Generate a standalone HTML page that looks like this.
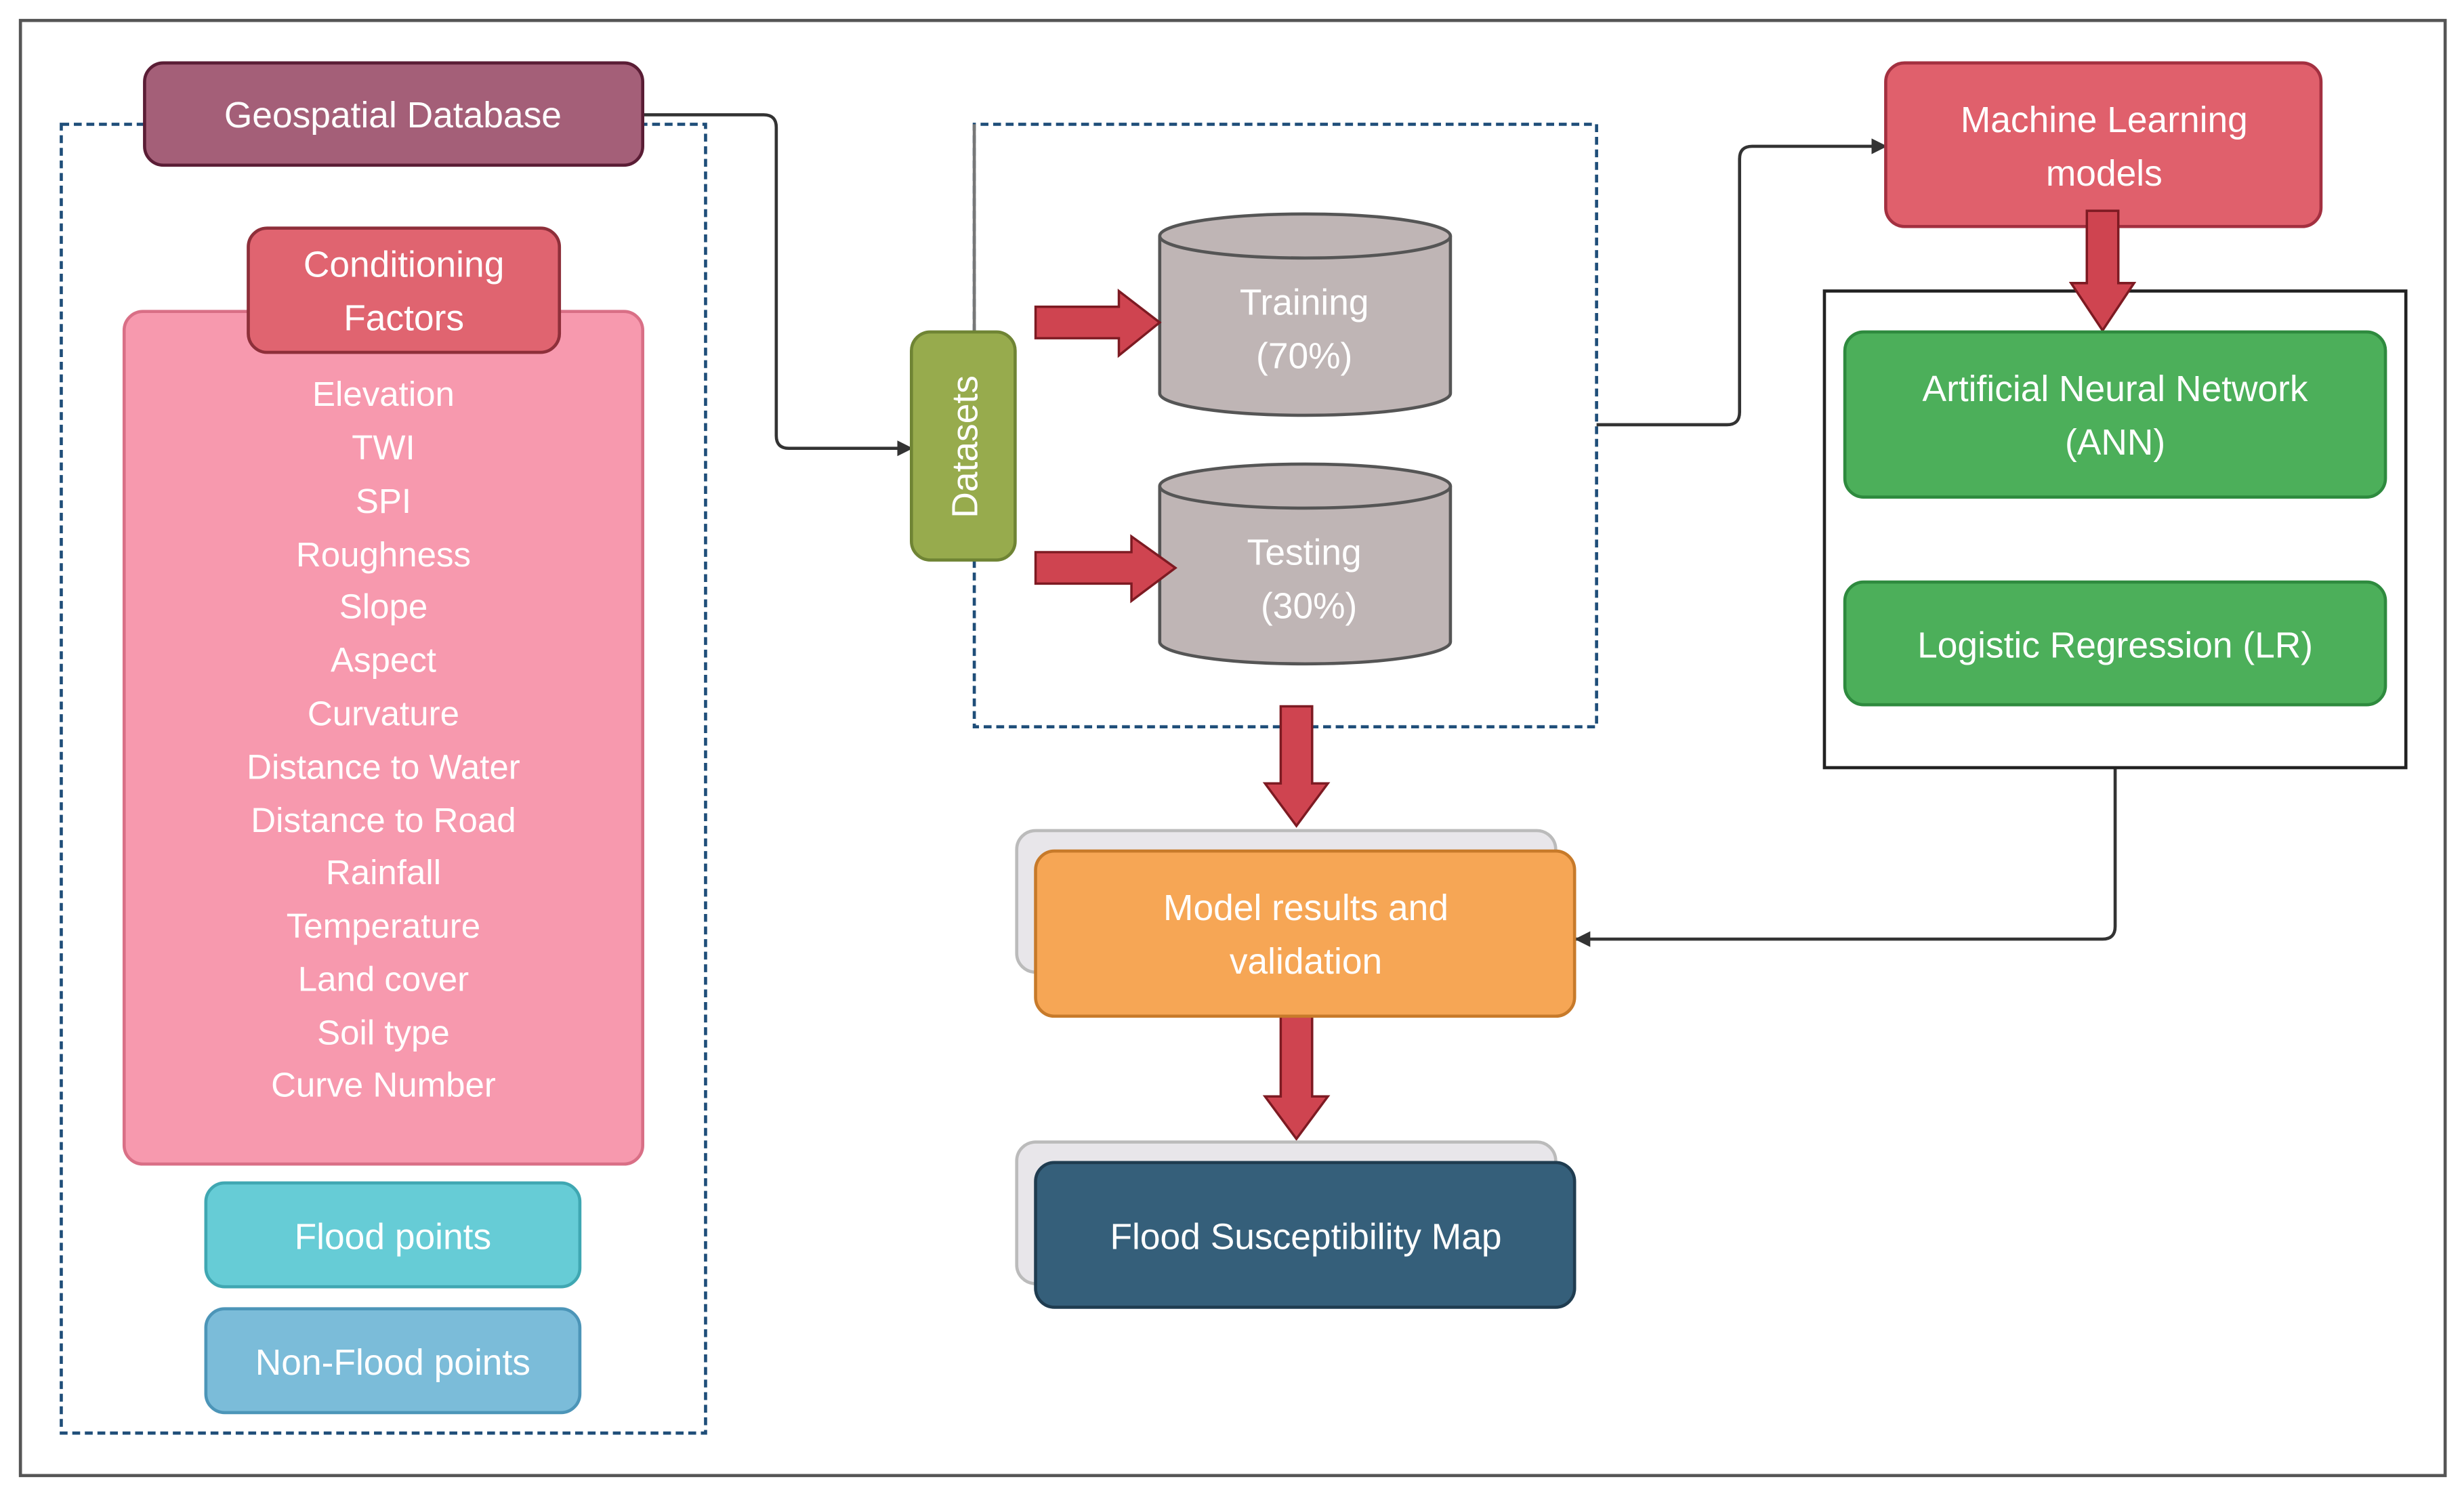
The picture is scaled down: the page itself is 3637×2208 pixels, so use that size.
<!DOCTYPE html>
<html><head><meta charset="utf-8"><style>
html,body{margin:0;padding:0;background:#fff;}
svg{display:block;}
text{font-family:"Liberation Sans","DejaVu Sans",sans-serif;fill:#fff;text-anchor:middle;}
</style></head><body>
<svg width="3637" height="2208" viewBox="0 0 1568 951" preserveAspectRatio="none" xmlns="http://www.w3.org/2000/svg">
<defs>
<marker id="ah" markerWidth="10" markerHeight="10" refX="9" refY="5" orient="auto" markerUnits="userSpaceOnUse"><path d="M0,0 L10,5 L0,10 Z" fill="#333"/></marker>
</defs>
<rect x="13" y="13" width="1543" height="925" fill="#fff" stroke="#555" stroke-width="2"/>
<!-- left dashed -->
<rect x="39" y="79" width="410" height="832" fill="none" stroke="#1f4e79" stroke-width="2" stroke-dasharray="5,3"/>
<!-- middle dashed -->
<path d="M620,211 L620,79 L1016,79" fill="none" stroke="#1f4e79" stroke-width="2" stroke-dasharray="5,3"/>
<path d="M1016,79 L1016,462 L620,462 L620,356" fill="none" stroke="#1f4e79" stroke-width="2" stroke-dasharray="5,3"/>
<line x1="620" y1="79" x2="620" y2="211" stroke="#777" stroke-width="2"/>
<!-- connectors -->
<path d="M409,73 L486,73 Q494,73 494,81 L494,277 Q494,285 502,285 L580,285" fill="none" stroke="#333" stroke-width="2" marker-end="url(#ah)"/>
<path d="M1016,270 L1099,270 Q1107,270 1107,262 L1107,101 Q1107,93 1115,93 L1200,93" fill="none" stroke="#333" stroke-width="2" marker-end="url(#ah)"/>
<path d="M1346,488 L1346,589 Q1346,597 1338,597 L1003,597" fill="none" stroke="#333" stroke-width="2" marker-end="url(#ah)"/>
<!-- Geospatial -->
<rect x="92" y="40" width="317" height="65" rx="12" fill="#a45f78" stroke="#5a1d35" stroke-width="2"/>
<text x="250" y="81" font-size="23">Geospatial Database</text>
<!-- pink -->
<rect x="79" y="198" width="330" height="542" rx="12" fill="#f799ae" stroke="#d96f86" stroke-width="2"/>
<rect x="158" y="145" width="198" height="79" rx="12" fill="#e06470" stroke="#8e2f3a" stroke-width="2"/>
<text x="257" y="176" font-size="23">Conditioning</text>
<text x="257" y="210" font-size="23">Factors</text>
<g font-size="22">
<text x="244" y="258">Elevation</text>
<text x="244" y="292">TWI</text>
<text x="244" y="326">SPI</text>
<text x="244" y="360">Roughness</text>
<text x="244" y="393">Slope</text>
<text x="244" y="427">Aspect</text>
<text x="244" y="461">Curvature</text>
<text x="244" y="495">Distance to Water</text>
<text x="244" y="529">Distance to Road</text>
<text x="244" y="562">Rainfall</text>
<text x="244" y="596">Temperature</text>
<text x="244" y="630">Land cover</text>
<text x="244" y="664">Soil type</text>
<text x="244" y="697">Curve Number</text>
</g>
<rect x="131" y="752" width="238" height="66" rx="12" fill="#66ccd6" stroke="#3fa7b2" stroke-width="2"/>
<text x="250" y="794" font-size="23">Flood points</text>
<rect x="131" y="832" width="238" height="66" rx="12" fill="#7bbcd9" stroke="#4c95b8" stroke-width="2"/>
<text x="250" y="874" font-size="23">Non-Flood points</text>
<!-- Datasets -->
<rect x="580" y="211" width="66" height="145" rx="12" fill="#97ab4d" stroke="#6f8434" stroke-width="2"/>
<text x="0" y="0" font-size="23" transform="translate(622,284) rotate(-90)">Datasets</text>
<!-- cylinders -->
<g fill="#bfb5b5" stroke="#555" stroke-width="2">
<path d="M738,150 L738,250 A92.5,14 0 0 0 923,250 L923,150"/>
<ellipse cx="830.5" cy="150" rx="92.5" ry="14"/>
<path d="M738,309 L738,408 A92.5,14 0 0 0 923,408 L923,309"/>
<ellipse cx="830.5" cy="309" rx="92.5" ry="14"/>
</g>
<text x="830" y="200" font-size="23">Training</text>
<text x="830" y="234" font-size="23">(70%)</text>
<text x="830" y="359" font-size="23">Testing</text>
<text x="833" y="393" font-size="23">(30%)</text>
<!-- red arrows -->
<g fill="#cf4450" stroke="#7d1a22" stroke-width="1.5">
<path d="M659,195 L712,195 L712,185 L738,205 L712,226 L712,215 L659,215 Z"/>
<path d="M659,351 L720,351 L720,341 L748,361 L720,382 L720,371 L659,371 Z"/>
<path d="M815,449 L835,449 L835,498 L845,498 L825,525 L805,498 L815,498 Z"/>
<path d="M815,646 L835,646 L835,697 L845,697 L825,724 L805,697 L815,697 Z"/>
<path d="M1328,134 L1348,134 L1348,180 L1358,180 L1338,210 L1318,180 L1328,180 Z"/>
</g>
<!-- ML -->
<rect x="1200" y="40" width="277" height="104" rx="12" fill="#e0606c" stroke="#a33040" stroke-width="2"/>
<text x="1339" y="84" font-size="23">Machine Learning</text>
<text x="1339" y="118" font-size="23">models</text>
<rect x="1161" y="185" width="370" height="303" fill="none" stroke="#222" stroke-width="2"/>
<path d="M1328,134 L1348,134 L1348,180 L1358,180 L1338,210 L1318,180 L1328,180 Z" fill="#cf4450" stroke="#7d1a22" stroke-width="1.5"/>
<rect x="1174" y="211" width="344" height="105" rx="12" fill="#4caf5a" stroke="#2e8a3e" stroke-width="2"/>
<text x="1346" y="255" font-size="23">Artificial Neural Network</text>
<text x="1346" y="289" font-size="23">(ANN)</text>
<rect x="1174" y="370" width="344" height="78" rx="12" fill="#4caf5a" stroke="#2e8a3e" stroke-width="2"/>
<text x="1346" y="418" font-size="23">Logistic Regression (LR)</text>
<!-- model results -->
<rect x="647" y="528" width="343" height="90" rx="12" fill="#e8e6ea" stroke="#bbb" stroke-width="2"/>
<rect x="659" y="541" width="343" height="105" rx="12" fill="#f6a655" stroke="#c77a2a" stroke-width="2"/>
<text x="831" y="585" font-size="23">Model results and</text>
<text x="831" y="619" font-size="23">validation</text>
<rect x="647" y="726" width="343" height="90" rx="12" fill="#e8e6ea" stroke="#bbb" stroke-width="2"/>
<rect x="659" y="739" width="343" height="92" rx="12" fill="#355f7a" stroke="#1f3c50" stroke-width="2"/>
<text x="831" y="794" font-size="23">Flood Susceptibility Map</text>
</svg>
</body></html>
